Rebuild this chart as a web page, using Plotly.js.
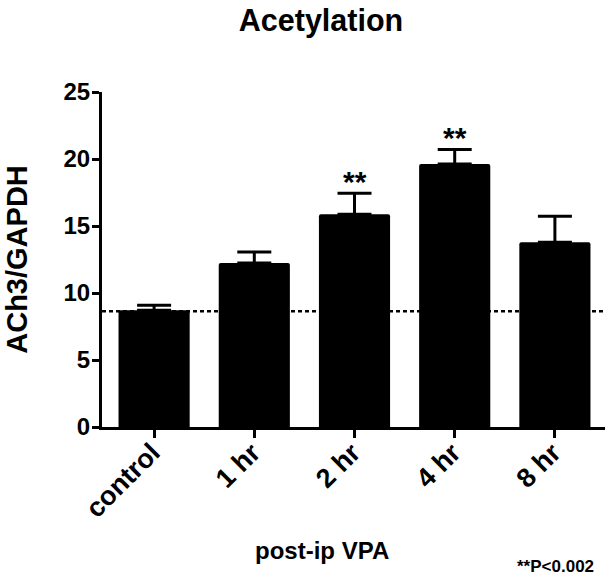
<!DOCTYPE html>
<html>
<head>
<meta charset="utf-8">
<script src="https://cdn.plot.ly/plotly-3.0.1.min.js"></script>
<style>html,body{margin:0;padding:0;background:#fff;}#chart{width:615px;height:579px;}</style>
</head>
<body>
<div id="chart"></div>
<script>
const categories = ["control", "1 hr", "2 hr", "4 hr", "8 hr"];
const means = [8.71, 12.24, 15.87, 19.63, 13.78];
const sems = [0.37, 0.82, 1.57, 1.07, 1.94];
const significant = [false, false, true, true, false];
const controlLevel = 8.63;
const yTicks = [0, 5, 10, 15, 20, 25];

const FONT = "Liberation Sans, Arial, Helvetica, sans-serif";

const trace = {
  type: "bar",
  x: categories,
  y: means,
  width: 0.71,
  marker: {color: "#000", line: {width: 0}, cornerradius: 2},
  error_y: {
    type: "data", symmetric: false,
    array: sems, arrayminus: sems.map(() => 0),
    color: "#000", thickness: 3, width: 17
  },
  hoverinfo: "x+y"
};

const annotations = [];
categories.forEach((c, i) => {
  if (significant[i]) {
    annotations.push({
      x: c, y: means[i] + sems[i], xref: "x", yref: "y",
      text: "**", showarrow: false, yanchor: "middle", yshift: 12,
      font: {family: FONT, size: 30, weight: "bold", color: "#000"}
    });
  }
});
annotations.push({
  x: 322 / 615, y: 1 - 550 / 579, xref: "paper", yref: "paper",
  text: "post-ip VPA", showarrow: false, xanchor: "center", yanchor: "middle",
  font: {family: FONT, size: 24, weight: "bold", color: "#000"}
});
annotations.push({
  x: 596 / 615, y: 1 - 566 / 579, xref: "paper", yref: "paper",
  text: "**P<0.002", showarrow: false, xanchor: "right", yanchor: "middle",
  font: {family: FONT, size: 17, weight: "bold", color: "#000"}
});
// convert container-pixel positions into paper fractions
const L = 101.7, R = 10, T = 91.7, B = 152.3, W = 615, H = 579;
const pw = W - L - R, ph = H - T - B;
annotations.forEach(a => {
  if (a.xref === "paper") {
    const px = a.x * W, py = (1 - a.y) * H;
    a.x = (px - L) / pw;
    a.y = 1 - (py - T) / ph;
  }
});

const layout = {
  width: W, height: H,
  margin: {l: L, r: R, t: T, b: B, pad: 0},
  paper_bgcolor: "#fff", plot_bgcolor: "#fff",
  showlegend: false,
  title: {
    text: "Acetylation", x: 321 / 615, xref: "container", xanchor: "center",
    y: 1 - 20.5 / 579, yref: "container", yanchor: "middle",
    font: {family: FONT, size: 30.5, weight: "bold", color: "#000"}
  },
  xaxis: {
    type: "category", range: [-0.52, 4.5],
    showline: true, linewidth: 3, linecolor: "#000",
    ticks: "outside", ticklen: 8, tickwidth: 3, tickcolor: "#000",
    tickangle: -45, showgrid: false, zeroline: false,
    ticklabelstandoff: -12, ticklabelshift: -2,
    tickfont: {family: FONT, size: 27, weight: "bold", color: "#000"}
  },
  yaxis: {
    range: [0, 25], tickvals: yTicks, ticktext: yTicks.map(String),
    showline: true, linewidth: 3, linecolor: "#000",
    ticks: "outside", ticklen: 7, tickwidth: 3, tickcolor: "#000",
    showgrid: false, zeroline: false, ticklabelstandoff: -3,
    tickfont: {family: FONT, size: 24, weight: "bold", color: "#000"},
    title: {text: "ACh3/GAPDH", standoff: 28,
      font: {family: FONT, size: 29, weight: "bold", color: "#000"}}
  },
  shapes: [{
    type: "line", xref: "paper", x0: 0, x1: 1, yref: "y", y0: controlLevel, y1: controlLevel,
    layer: "below", line: {color: "#000", width: 2.5, dash: "4px,3px"}
  }],
  annotations: annotations
};

Plotly.newPlot("chart", [trace], layout, {displayModeBar: false, staticPlot: true});
</script>
</body>
</html>
